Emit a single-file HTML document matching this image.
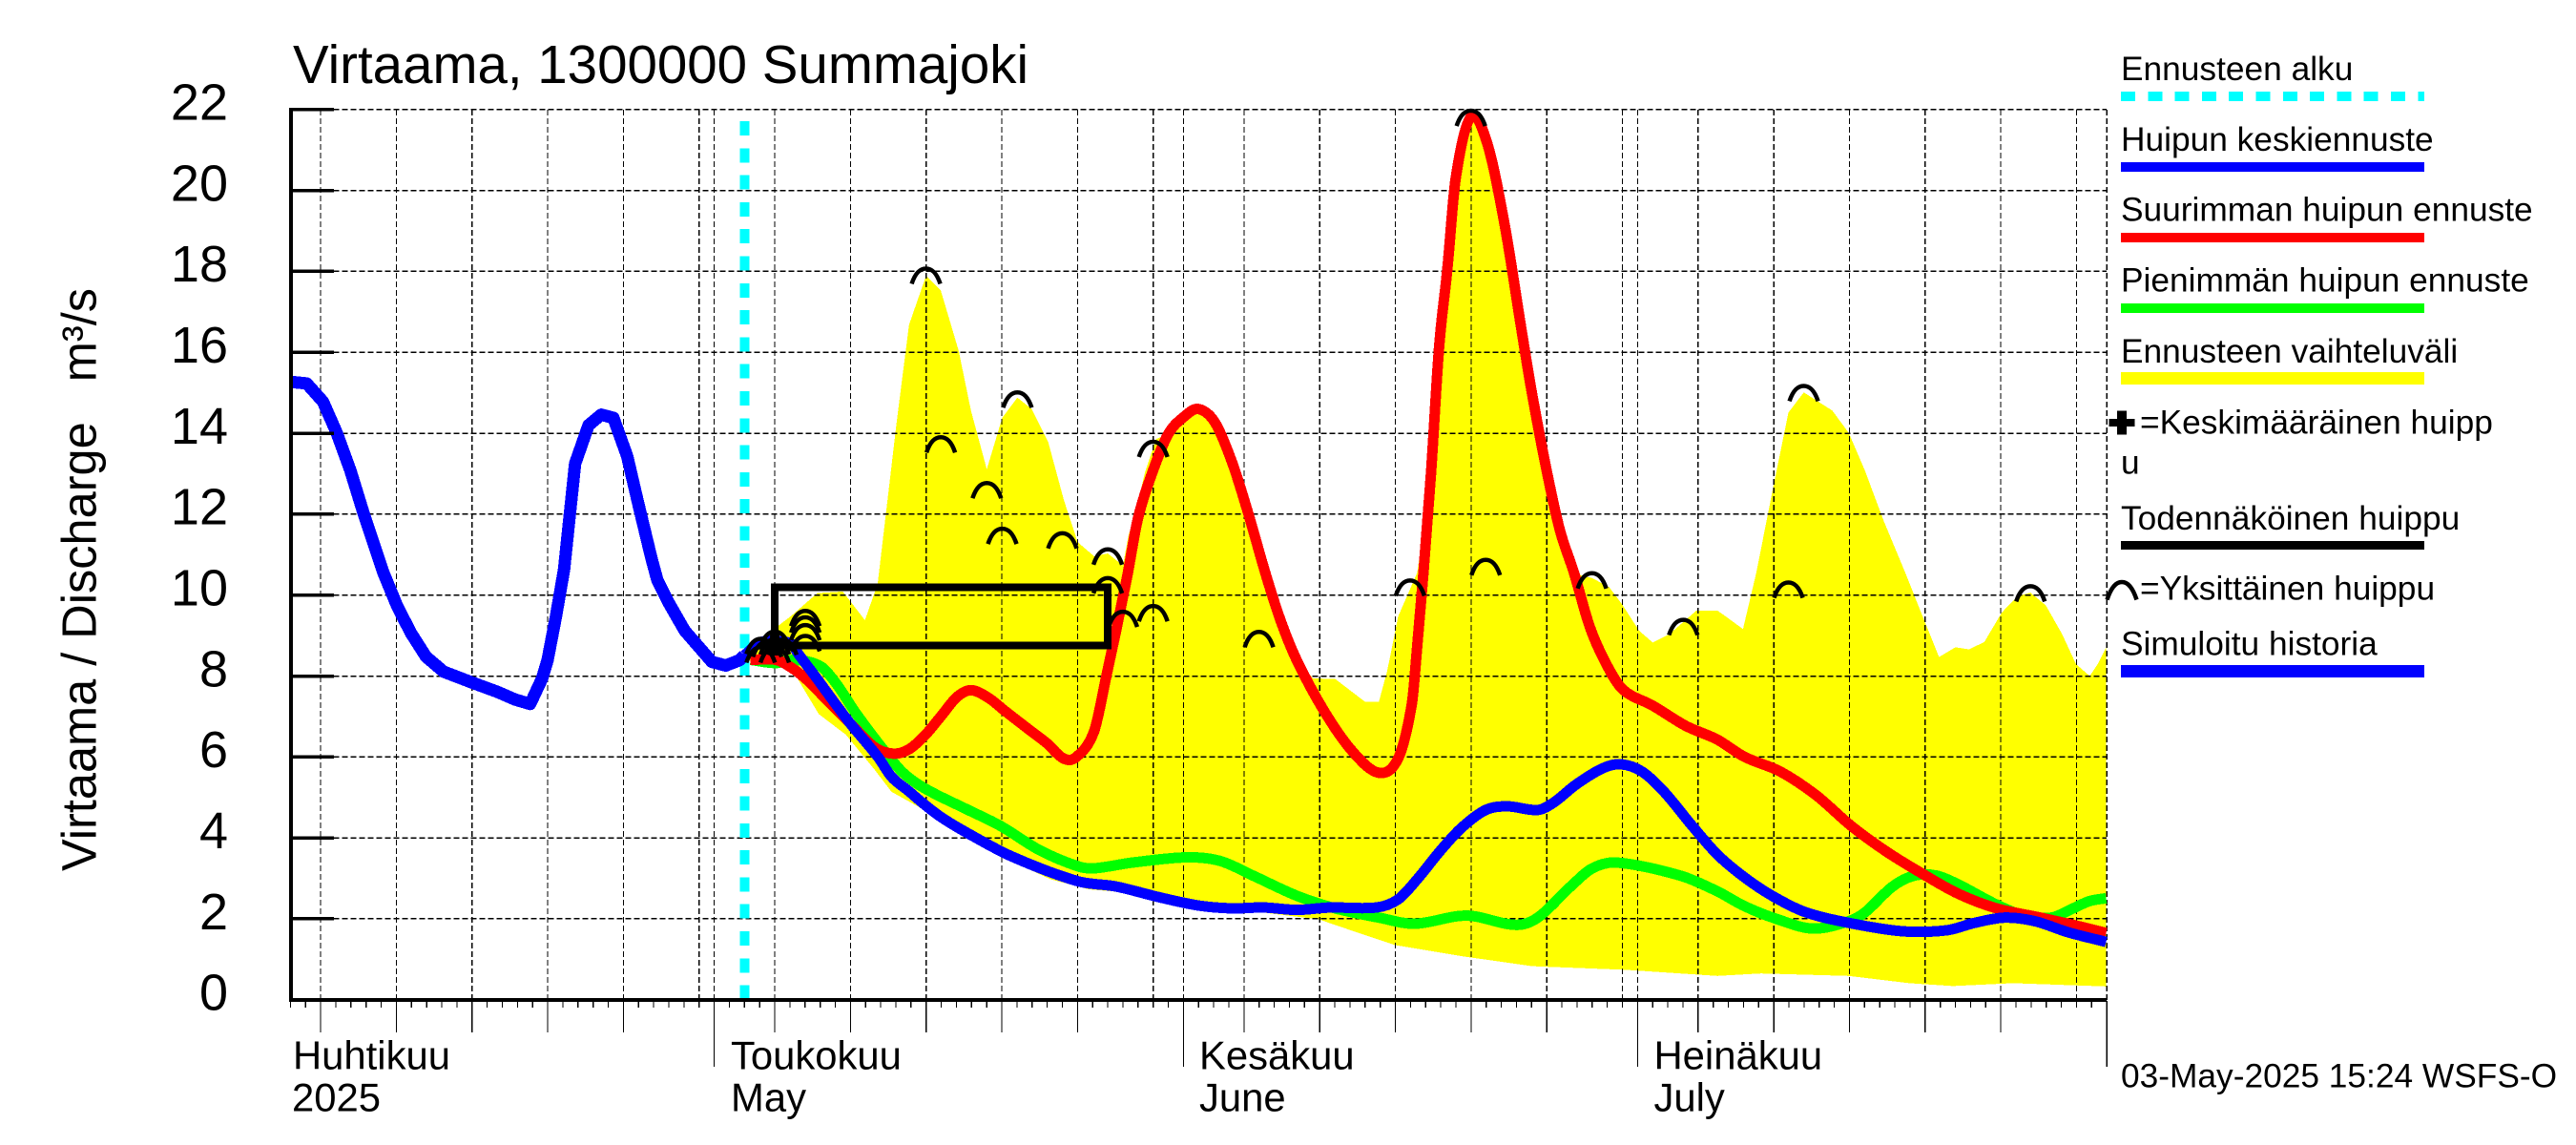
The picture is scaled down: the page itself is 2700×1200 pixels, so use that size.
<!DOCTYPE html>
<html lang="fi">
<head>
<meta charset="utf-8">
<title>Virtaama, 1300000 Summajoki</title>
<style>
html,body{margin:0;padding:0;background:#fff;width:2700px;height:1200px;overflow:hidden}
svg{display:block}
text{font-family:"Liberation Sans",sans-serif;fill:#000;white-space:pre}
.month{font-size:41.8px}
.leg{font-size:35.3px}
.ytick{font-size:54px;text-anchor:end}
</style>
</head>
<body>
<svg id="chart" xmlns="http://www.w3.org/2000/svg" width="2700" height="1200" viewBox="0 0 2700 1200">
  <rect x="0" y="0" width="2700" height="1200" fill="#fff"/>
  <text x="307" y="87" font-size="56.4" textLength="771" lengthAdjust="spacingAndGlyphs">Virtaama, 1300000 Summajoki</text>
  <text transform="translate(100.5 913) rotate(-90)" font-size="51" textLength="611" lengthAdjust="spacingAndGlyphs">Virtaama / Discharge   m³/s</text>
  <g id="band-layer"></g>
  <g id="grid-layer"></g>
  <g id="series-layer"></g>
  <g id="peak-layer"></g>
  <g id="axis-layer"></g>

  <text class="month" x="307" y="1120.5">Huhtikuu</text>
  <text class="month" x="306" y="1164.5">2025</text>
  <text class="month" x="766" y="1120.5">Toukokuu</text>
  <text class="month" x="766" y="1164.5">May</text>
  <text class="month" x="1257" y="1120.5">Kesäkuu</text>
  <text class="month" x="1257" y="1164.5">June</text>
  <text class="month" x="1733.5" y="1120.5">Heinäkuu</text>
  <text class="month" x="1733.5" y="1164.5">July</text>

  <g>
    <text class="leg" x="2223" y="84.2">Ennusteen alku</text>
    <line x1="2223" y1="101" x2="2541" y2="101" stroke="#00ffff" stroke-width="10" stroke-dasharray="15 13.3" shape-rendering="crispEdges"/>
    <text class="leg" x="2223" y="158">Huipun keskiennuste</text>
    <rect x="2223" y="170" width="318" height="10" fill="#0000ff"/>
    <text class="leg" x="2223" y="231.5">Suurimman huipun ennuste</text>
    <rect x="2223" y="244" width="318" height="10" fill="#ff0000"/>
    <text class="leg" x="2223" y="305.4">Pienimmän huipun ennuste</text>
    <rect x="2223" y="318" width="318" height="10" fill="#00ff00"/>
    <text class="leg" x="2223" y="380">Ennusteen vaihteluväli</text>
    <rect x="2223" y="390" width="318" height="13" fill="#ffff00"/>
    <rect x="2210.5" y="439" width="27" height="8" fill="#000"/>
    <rect x="2219" y="430.5" width="10" height="25" fill="#000"/>
    <text class="leg" x="2243" y="454.3">=Keskimääräinen huipp</text>
    <text class="leg" x="2223" y="496.4">u</text>
    <text class="leg" x="2223" y="555">Todennäköinen huippu</text>
    <rect x="2223" y="567" width="318" height="9" fill="#000"/>
    <path d="M2208.5 628.5C2213 615 2218 610 2224 610C2230 610 2235 615 2239.5 628.5" fill="none" stroke="#000" stroke-width="4.5"/>
    <text class="leg" x="2243" y="628.7">=Yksittäinen huippu</text>
    <text class="leg" x="2223" y="686.5">Simuloitu historia</text>
    <rect x="2223" y="697" width="318" height="13" fill="#0000ff"/>
  </g>
  <text class="leg" x="2223" y="1139.6">03-May-2025 15:24 WSFS-O</text>
</svg>
<script>
// Days are counted from 1 April 2025 (day 0); values in m3/s.
const yTickValues = [0,2,4,6,8,10,12,14,16,18,20,22];
const gridDays = [4,9,14,19,24,29,30,34,39,44,49,54,59,61,65,70,75,80,85,90,91,95,100,105,110,115,120,122];
const fiveDayTicks = [4,9,14,19,24,34,39,44,49,54,65,70,75,80,85,95,100,105,110,115];
const monthTicks = [30,61,91,122];
const firstDay = 2;
const lastDay = 122;
const forecastStartDay = 32;

const historyDays = [2.04,3.08,4.16,5.06,5.97,6.87,8.14,9.03,9.95,10.96,12.12,13.93,15.74,16.83,17.84,18.63,18.99,19.54,20.08,20.81,21.70,22.54,23.34,24.25,24.98,25.86,26.24,26.95,28.05,29.85,30.76,31.66,31.98];
const historyValues = [15.27,15.23,14.78,14.01,13.07,11.98,10.56,9.75,9.07,8.48,8.11,7.85,7.60,7.42,7.31,7.94,8.39,9.47,10.63,13.25,14.20,14.46,14.38,13.43,12.26,10.90,10.38,9.84,9.12,8.35,8.26,8.39,8.51];

const meanDays = [31.98,33.03,34.19,35.13,35.55,36.58,38.92,40.8,41.71,42.9,43.88,45.0,46.78,49.67,54.01,56.55,59.44,61.98,64.15,66.32,68.49,70.66,73.74,75.18,76.45,77.9,79.34,80.97,82.42,84.41,85.49,86.94,88.75,89.94,91.29,92.73,94.54,96.27,98.08,99.89,102.06,104.96,108.57,111.46,113.27,115.27,117.26,119.43,121.96];
const meanValues = [8.51,8.83,8.86,8.79,8.55,8.04,6.86,6.01,5.51,5.14,4.83,4.51,4.11,3.54,2.93,2.80,2.53,2.33,2.26,2.28,2.22,2.28,2.28,2.48,2.98,3.65,4.24,4.69,4.78,4.69,4.88,5.32,5.73,5.82,5.64,5.15,4.33,3.59,3.02,2.57,2.17,1.90,1.69,1.72,1.90,2.03,1.94,1.67,1.43];

const maxDays = [32.4,34.08,35.13,36.18,37.23,38.92,40.6,41.86,42.91,43.96,45.01,46.06,47.0,48.16,49.2,50.68,51.94,53.09,53.93,55.09,55.93,56.56,57.29,57.99,58.89,59.98,61.08,61.98,63.06,64.16,65.24,66.4,67.41,68.49,70.3,72.16,73.91,75.18,76.09,76.45,76.86,77.35,77.89,78.43,78.98,79.99,81.08,82.24,83.32,84.04,84.95,85.86,86.81,87.85,88.93,90.02,92.0,94.18,96.27,98.08,100.43,102.78,105.14,107.49,109.84,112.19,114.72,117.62,119.78,121.96];
const maxValues = [8.40,8.40,8.20,7.89,7.49,6.86,6.24,6.08,6.20,6.55,7.02,7.49,7.65,7.45,7.14,6.71,6.35,5.96,6.00,6.63,8.04,9.14,10.48,11.89,12.97,13.97,14.42,14.60,14.28,13.34,12.07,10.56,9.38,8.39,7.13,6.14,5.61,5.96,7.31,8.76,10.56,12.98,16.13,18.03,20.29,21.82,21.15,19.11,16.59,14.96,13.16,11.62,10.54,9.21,8.30,7.67,7.27,6.77,6.43,6.0,5.64,5.06,4.29,3.65,3.11,2.62,2.26,2.03,1.85,1.65];

const minDays = [32.4,34.06,35.32,37.02,38.07,39.33,41.22,42.48,43.88,46.78,48.95,51.48,54.01,55.1,57.63,61.25,63.42,65.59,68.49,71.02,73.91,76.27,79.7,82.96,84.41,86.58,88.02,89.65,93.81,96.27,98.08,100.24,102.6,104.95,106.03,107.85,109.3,110.74,112.19,114.72,116.53,118.33,119.78,120.87,121.96];
const minValues = [8.40,8.32,8.40,8.24,7.81,7.10,6.16,5.61,5.23,4.69,4.29,3.70,3.30,3.25,3.39,3.52,3.43,3.07,2.57,2.26,2.03,1.88,2.08,1.85,2.03,2.80,3.25,3.39,3.07,2.68,2.31,1.99,1.76,1.94,2.16,2.80,3.07,3.07,2.85,2.35,2.08,2.03,2.26,2.44,2.51];

const bandUpperDays = [31.98,33.87,35.13,36.81,38.49,39.96,40.8,42.07,42.87,43.99,44.96,46.15,46.96,48.01,49.03,50.03,50.97,52.06,53.11,54.01,55.1,56.0,57.0,57.38,57.8,58.45,59.2,59.98,61.08,61.98,63.06,64.16,65.24,66.4,67.41,68.49,69.57,71.02,73.01,73.91,74.46,75.18,76.45,77.35,77.89,78.43,78.98,79.99,81.08,82.24,83.32,84.04,84.95,85.86,86.81,88.01,89.12,90.02,91.1,92.0,93.09,94.9,96.27,96.99,97.97,98.85,99.89,100.97,101.98,103.87,104.95,106.03,107.29,108.68,109.84,110.92,112.0,112.9,113.91,115.07,116.09,116.96,117.97,119.06,119.96,120.87,121.41,121.96];
const bandUpperValues = [8.48,9.14,9.50,10.05,10.09,9.38,10.28,14.33,16.68,17.89,17.54,16.04,14.56,13.11,14.38,14.88,14.60,13.79,12.34,11.31,10.96,11.03,10.73,11.50,11.97,13.03,13.86,13.97,14.42,14.60,14.28,13.34,12.07,10.56,9.38,8.39,7.94,7.93,7.36,7.36,8.13,9.47,10.56,12.98,16.13,18.03,20.29,21.82,21.15,19.11,16.59,14.96,13.16,11.62,10.54,10.42,10.20,9.75,9.12,8.83,9.03,9.62,9.62,9.43,9.16,10.56,12.53,14.51,15.01,14.56,14.01,13.07,11.81,10.56,9.47,8.47,8.71,8.66,8.84,9.57,9.97,10.06,9.75,9.03,8.30,8.0,8.30,8.71];

const bandLowerDays = [31.98,34.06,35.34,36.91,38.7,40.59,41.71,43.88,48.59,52.2,54.73,56.9,59.44,67.04,69.92,72.82,75.0,79.34,84.04,90.2,96.27,99.16,104.95,108.94,111.83,115.81,121.96];
const bandLowerValues = [8.40,8.28,8.04,7.06,6.55,5.69,5.14,4.69,3.61,2.98,2.73,2.66,2.48,2.12,1.99,1.62,1.35,1.08,0.83,0.74,0.59,0.65,0.59,0.41,0.34,0.41,0.33];

const peakDays = [43.99,50.03,44.97,48.01,49.03,53.0,56.0,59.0,79.99,80.97,56.0,57.0,59.0,65.99,75.97,87.99,94.02,101.98,100.97,116.96,36.02,36.02,36.02,36.02,33.07,33.07,33.5,34,34,34,34.5];
const peakValues = [18.07,15.01,13.90,12.77,11.64,11.53,11.13,13.79,21.97,10.87,10.42,9.59,9.73,9.09,10.36,10.54,9.39,15.17,10.31,10.22,9.61,9.45,9.26,8.99,8.92,8.71,8.85,9.10,8.91,8.71,8.90];

const probableBoxDays = [34,56];
const probableBoxValues = [8.75,10.19];
const meanPeakDay = 34;
const meanPeakValue = 8.8;

const NS = 'http://www.w3.org/2000/svg';
const xOf = d => 272.65 + 15.865 * d;
const yOf = v => 1047.8 - 42.41 * v;
const bandLayer = document.getElementById('band-layer');
const gridLayer = document.getElementById('grid-layer');
const seriesLayer = document.getElementById('series-layer');
const peakLayer = document.getElementById('peak-layer');
const axisLayer = document.getElementById('axis-layer');

function make(tag, props, parent) {
  const el = document.createElementNS(NS, tag);
  for (const k in props) el.setAttribute(k, props[k]);
  parent.appendChild(el);
  return el;
}
function points(days, values) {
  return days.map((d, i) => xOf(d).toFixed(1) + ' ' + yOf(values[i]).toFixed(1));
}
// Non-uniform Catmull-Rom through the data points, x stays monotonic.
function smoothPath(days, values) {
  const n = days.length;
  const xs = days.map(xOf), ys = values.map(yOf);
  const slope = i => {
    const a = Math.max(i - 1, 0), b = Math.min(i + 1, n - 1);
    return (ys[b] - ys[a]) / (xs[b] - xs[a]);
  };
  let out = 'M' + xs[0].toFixed(1) + ' ' + ys[0].toFixed(1);
  for (let i = 0; i < n - 1; i++) {
    const h = (xs[i + 1] - xs[i]) / 3;
    out += 'C' + (xs[i] + h).toFixed(1) + ' ' + (ys[i] + slope(i) * h).toFixed(1) + ' ' +
      (xs[i + 1] - h).toFixed(1) + ' ' + (ys[i + 1] - slope(i + 1) * h).toFixed(1) + ' ' +
      xs[i + 1].toFixed(1) + ' ' + ys[i + 1].toFixed(1);
  }
  return out;
}

// forecast range band
const bandPts = points(bandUpperDays, bandUpperValues).concat(points(bandLowerDays, bandLowerValues).reverse());
const band = make('path', {d: 'M' + bandPts.join('L') + 'Z', fill: '#ffff00', stroke: 'none', 'shape-rendering': 'crispEdges'}, bandLayer);



// grid
yTickValues.forEach(v => {
  if (v === 0) return;
  const g = make('line', {x1: xOf(firstDay), y1: yOf(v), x2: xOf(lastDay), y2: yOf(v), stroke: '#000', 'stroke-width': 1.5, 'stroke-dasharray': '6 3', 'shape-rendering': 'crispEdges'}, gridLayer);
  
  
});
gridDays.forEach(d => {
  const g = make('line', {x1: xOf(d), y1: yOf(22), x2: xOf(d), y2: yOf(0), stroke: '#000', 'stroke-width': 1.2, 'stroke-dasharray': '6 3', 'shape-rendering': 'crispEdges'}, gridLayer);
  
  
});

// forecast start marker
const startLine = make('line', {x1: xOf(forecastStartDay), y1: 127, x2: xOf(forecastStartDay), y2: yOf(0), stroke: '#00ffff', 'stroke-width': 10, 'stroke-dasharray': '15 13.3', 'shape-rendering': 'crispEdges'}, seriesLayer);



// series
function drawLine(days, values, color, width, parent) {
  return make('path', {d: smoothPath(days, values), fill: 'none', stroke: color, 'stroke-width': width, 'stroke-linejoin': 'round', 'shape-rendering': 'crispEdges'}, parent);
}
const minLine = drawLine(minDays, minValues, '#00ff00', 11, seriesLayer);


const maxLine = drawLine(maxDays, maxValues, '#ff0000', 11, seriesLayer);


const histLine = make('polyline', {points: points(historyDays, historyValues).join(' '), fill: 'none', stroke: '#0000ff', 'stroke-width': 13, 'stroke-linejoin': 'round', 'shape-rendering': 'crispEdges'}, seriesLayer);


const meanLine = drawLine(meanDays, meanValues, '#0000ff', 11, seriesLayer);



// probable peak box
const box = make('rect', {x: xOf(probableBoxDays[0]), y: yOf(probableBoxValues[1]), width: xOf(probableBoxDays[1]) - xOf(probableBoxDays[0]), height: yOf(probableBoxValues[0]) - yOf(probableBoxValues[1]), fill: 'none', stroke: '#000', 'stroke-width': 8, 'shape-rendering': 'crispEdges'}, peakLayer);



// single peaks
peakDays.forEach((d, i) => {
  const x = xOf(d), y = yOf(peakValues[i]);
  const arc = make('path', {d: 'M' + (x - 15) + ' ' + (y + 16) + 'C' + (x - 11) + ' ' + (y + 4) + ' ' + (x - 6) + ' ' + y + ' ' + x + ' ' + y + 'C' + (x + 6) + ' ' + y + ' ' + (x + 11) + ' ' + (y + 4) + ' ' + (x + 15) + ' ' + (y + 16), fill: 'none', stroke: '#000', 'stroke-width': 4.5}, peakLayer);
  
  
});

// mean peak plus
const plusX = xOf(meanPeakDay), plusY = yOf(meanPeakValue);
const plusH = make('rect', {x: plusX - 13.5, y: plusY - 4, width: 27, height: 8, fill: '#000'}, peakLayer);


const plusV = make('rect', {x: plusX - 5, y: plusY - 12.5, width: 10, height: 25, fill: '#000'}, peakLayer);



// axes
const yAxis = make('line', {x1: 305, y1: yOf(22) - 2, x2: 305, y2: yOf(0) + 2, stroke: '#000', 'stroke-width': 4, 'shape-rendering': 'crispEdges'}, axisLayer);


const xAxis = make('line', {x1: 303, y1: yOf(0), x2: xOf(lastDay), y2: yOf(0), stroke: '#000', 'stroke-width': 4, 'shape-rendering': 'crispEdges'}, axisLayer);



yTickValues.forEach(v => {
  if (v !== 0) {
    const t = make('line', {x1: 304, y1: yOf(v), x2: 350, y2: yOf(v), stroke: '#000', 'stroke-width': 3.5, 'shape-rendering': 'crispEdges'}, axisLayer);
    
    
  }
  const label = make('text', {class: 'ytick', x: 239, y: yOf(v) + 10.8}, axisLayer);
  label.textContent = String(v);
  
  
});

for (let d = firstDay; d <= lastDay; d++) {
  let bottom = 1056;
  if (fiveDayTicks.includes(d)) bottom = 1082;
  if (monthTicks.includes(d)) bottom = 1118;
  const t = make('line', {x1: xOf(d), y1: 1049, x2: xOf(d), y2: bottom, stroke: '#000', 'stroke-width': 1.2, 'shape-rendering': 'crispEdges'}, axisLayer);
  
  
}
</script>
</body>
</html>
